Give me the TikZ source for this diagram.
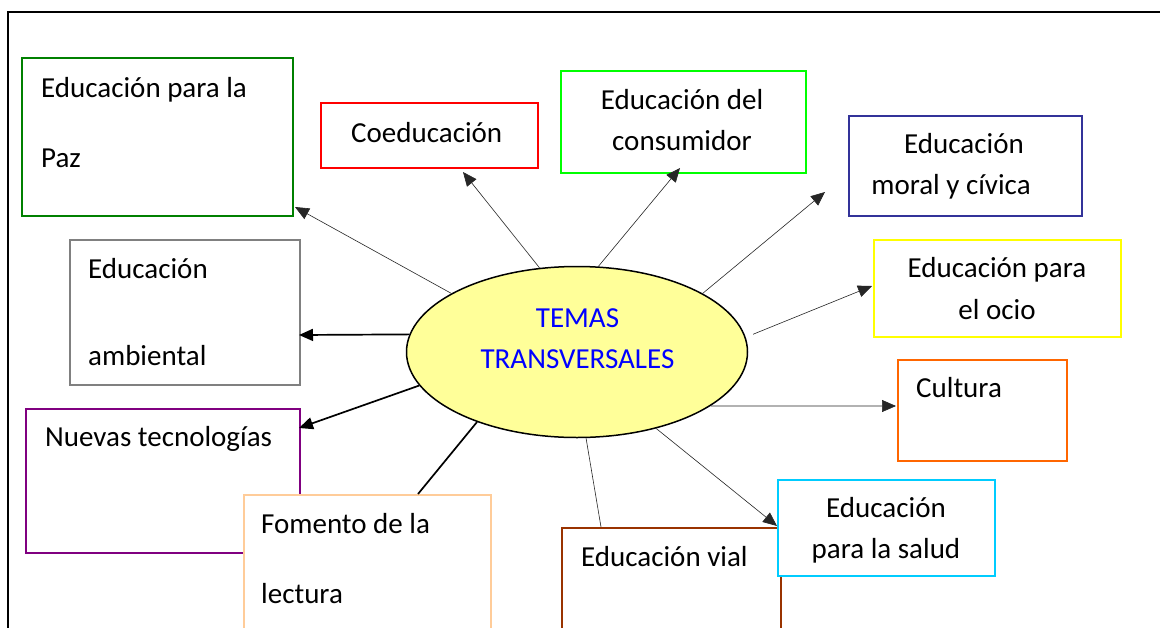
\documentclass[tikz,border=0pt]{standalone}
\usepackage{fontspec}
\setmainfont{Carlito}
\usetikzlibrary{arrows.meta,shapes.geometric}
\definecolor{cPaz}{RGB}{0,128,0}
\definecolor{cCoed}{RGB}{255,0,0}
\definecolor{cCons}{RGB}{0,255,0}
\definecolor{cMoral}{RGB}{51,51,153}
\definecolor{cOcio}{RGB}{255,255,0}
\definecolor{cCult}{RGB}{255,102,0}
\definecolor{cSalud}{RGB}{0,204,255}
\definecolor{cVial}{RGB}{153,51,0}
\definecolor{cFom}{RGB}{255,204,153}
\definecolor{cNuev}{RGB}{128,0,128}
\definecolor{cAmb}{RGB}{128,128,128}
\definecolor{ellFill}{RGB}{255,255,153}
\definecolor{temaBlue}{RGB}{0,0,255}
\begin{document}
\begin{tikzpicture}[x=1pt,y=-1pt,
  box/.style={draw, line width=1.6pt, fill=white, inner sep=0pt, anchor=north west},
  txt/.style={inner sep=0pt, font=\fontsize{29}{35}\selectfont},
  tipshape/.style={-{Triangle[length=14pt,width=12pt]}},
  thinarrow/.style={draw=black!85, line width=0.6pt, tipshape},
  thickarrow/.style={draw=black, line width=1.7pt, tipshape},
  thinline/.style={draw=black!85, line width=0.6pt},
  thickline/.style={draw=black, line width=1.7pt}]
\clip (0,0) rectangle (1160,627);
\fill[white] (0,0) rectangle (1160,627);
% outer frame
\draw[line width=2.2pt] (1162,12) -- (8,12) -- (8,630);

% boxes
\node[box, draw=cPaz,   minimum width=271pt, minimum height=158pt] (paz)   at (21,57) {};
\node[box, draw=cCoed,  minimum width=217pt, minimum height=65pt]  (coed)  at (320,102) {};
\node[box, draw=cCons,  minimum width=245pt, minimum height=102pt] (cons)  at (560,70) {};
\node[box, draw=cMoral, minimum width=233pt, minimum height=100pt] (moral) at (848,115) {};
\node[box, draw=cOcio,  minimum width=247pt, minimum height=97pt]  (ocio)  at (873,239) {};
\node[box, draw=cCult,  minimum width=169pt, minimum height=101pt] (cult)  at (897,359) {};
\node[box, draw=cAmb,   minimum width=230pt, minimum height=145pt] (amb)   at (69,239) {};
\node[box, draw=cNuev,  minimum width=274pt, minimum height=144pt] (nuev)  at (25,408) {};
\node[box, draw=cFom,   minimum width=247pt, minimum height=170pt] (fom)   at (243,494) {};
\node[box, draw=cVial,  minimum width=219pt, minimum height=140pt] (vial)  at (561,527) {};
\node[box, draw=cSalud, minimum width=217pt, minimum height=96pt]  (salud) at (777,479) {};

% ellipse
\node[ellipse, draw, line width=1.5pt, fill=ellFill, inner sep=0pt,
      minimum width=341pt, minimum height=171pt] (ell) at (577,352) {};

% texts
\node[txt, anchor=base west] (pazA) at (41,97) {Educación para la};
\node[txt, anchor=base west] (pazB) at (41,167) {Paz};
\node[txt, anchor=base west] (coedA) at (351,142) {Coeducación};
\node[txt, anchor=base] (consA) at (682,109) {Educación del};
\node[txt, anchor=base] (consB) at (682,150) {consumidor};
\node[txt, anchor=base] (moralA) at (964,153) {Educación};
\node[txt, anchor=base] (moralB) at (951,194) {moral y cívica};
\node[txt, anchor=base] (ocioA) at (997,277) {Educación para};
\node[txt, anchor=base] (ocioB) at (997,319) {el ocio};
\node[txt, anchor=base west] (cultA) at (916,397) {Cultura};
\node[txt, anchor=base] (saludA) at (886,517) {Educación};
\node[txt, anchor=base] (saludB) at (886,558) {para la salud};
\node[txt, anchor=base west] (vialA) at (581,566) {Educación vial};
\node[txt, anchor=base west] (ambA) at (88,278) {Educación};
\node[txt, anchor=base west] (ambB) at (88,365) {ambiental};
\node[txt, anchor=base west] (nuevA) at (45,446) {Nuevas tecnologías};
\node[txt, anchor=base west] (fomA) at (261,533) {Fomento de la};
\node[txt, anchor=base west] (fomB) at (261,603) {lectura};
\node[txt, anchor=base, text=temaBlue] (temA) at (577.5,327) {TEMAS};
\node[txt, anchor=base, text=temaBlue] (temB) at (577.5,368) {TRANSVERSALES};

% arrow end points
\coordinate (tPaz)   at (295,207);
\coordinate (tCoed)  at (463,172);
\coordinate (tCons)  at (680,168);
\coordinate (tMoral) at (825,192);
\coordinate (tOcio)  at (872,286);
\coordinate (tCult)  at (896,406);
\coordinate (tSalud) at (777,526);
\coordinate (tVial)  at (601,527);
\coordinate (tFom)   at (418,494);
\coordinate (tNuev)  at (299,428);
\coordinate (tAmb)   at (299,335);

% connectors
\draw[thinarrow] (ell.155) -- (tPaz);
\draw[thinarrow] (ell.114.6) -- (tCoed);
\draw[thinarrow] (ell.76.1) -- (tCons);
\draw[thinarrow] (ell.25.1) -- (tMoral);
\draw[thinarrow, shorten <=8pt] (ell.5.9) -- (tOcio);
\draw[thinarrow] (ell.-22.1) -- (tCult);
\draw[thinarrow] (ell.-44.6) -- (tSalud);
\draw[thinline] (ell.-84.7) -- (tVial);
\draw[thickline] (ell.-145.5) -- (tFom);
\draw[thickarrow] (ell.192.1) -- (tNuev);
\draw[thickarrow] (ell.174.2) -- (tAmb);
\end{tikzpicture}
\end{document}
